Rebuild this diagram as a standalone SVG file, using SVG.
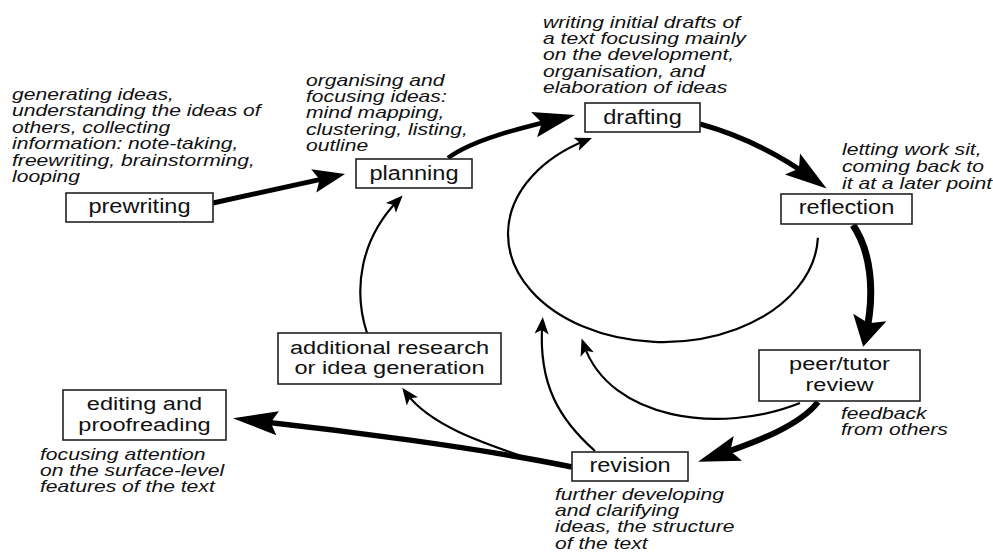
<svg xmlns="http://www.w3.org/2000/svg" width="993" height="552" viewBox="0 0 993 552">
<defs>
<style>
.box{fill:#fff;stroke:#222;stroke-width:1.6}
.lbl{font-family:"Liberation Sans",Arial,sans-serif;font-size:19.5px;fill:#111;text-anchor:middle}
.lbl2{font-family:"Liberation Sans",Arial,sans-serif;font-size:18px;fill:#111;text-anchor:middle}
.note{font-family:"Liberation Sans",Arial,sans-serif;font-size:16px;font-style:italic;fill:#111}
.c{fill:none;stroke:#000;stroke-linecap:butt}
.thin{stroke-width:2.2;marker-end:url(#mSmall)}
</style>
<marker id="mBig" markerUnits="userSpaceOnUse" markerWidth="50" markerHeight="30" refX="26" refY="0" orient="auto" overflow="visible"><path d="M42,0 L0,-13 L8,0 L0,13 Z" fill="#000"/></marker>
<marker id="mLong" markerUnits="userSpaceOnUse" markerWidth="50" markerHeight="30" refX="28" refY="0" orient="auto" overflow="visible"><path d="M45,0 L0,-12 L7,0 L0,12 Z" fill="#000"/></marker>
<marker id="mWide" markerUnits="userSpaceOnUse" markerWidth="40" markerHeight="40" refX="19" refY="0" orient="auto" overflow="visible"><path d="M30,0 L0,-17 L6,0 L0,17 Z" fill="#000"/></marker>
<marker id="mMed" markerUnits="userSpaceOnUse" markerWidth="40" markerHeight="30" refX="20" refY="0" orient="auto" overflow="visible"><path d="M32,0 L0,-12 L6,0 L0,12 Z" fill="#000"/></marker>
<marker id="mSmall" markerUnits="userSpaceOnUse" markerWidth="20" markerHeight="20" refX="10" refY="0" orient="auto" overflow="visible"><path d="M17,0 L0,-7 L4,0 L0,7 Z" fill="#000"/></marker>
</defs>
<rect width="993" height="552" fill="#fff"/>

<g id="connectors">
<path id="prewriting-planning" class="c" stroke-width="5" marker-end="url(#mMed)" d="M213,203 L333.3,176.6"/>
<path id="planning-drafting" class="c" stroke-width="4.5" marker-end="url(#mBig)" d="M448,158 C472,140 520,128 559.4,118.7"/>
<path id="drafting-reflection" class="c" stroke-width="5" marker-end="url(#mBig)" d="M700,124 C740,135 780,155 813.6,179.1"/>
<path id="reflection-peer" class="c" stroke-width="7" marker-end="url(#mWide)" d="M853,225 C870,250 876,290 865.6,336"/>
<path id="peer-revision" class="c" stroke-width="6" marker-end="url(#mBig)" d="M818,402 C800,425 760,441 713.2,456.6"/>
<path id="revision-editing" class="c" stroke-width="5.5" marker-end="url(#mLong)" d="M572,467 C480,448 340,430 249.8,420.2"/>
<path id="revision-research" class="c thin" d="M530,459 C480,442 430,425 406.4,393.4"/>
<path id="research-planning" class="c thin" d="M367,333 C353,290 360,240 397.8,200.6"/>
<path id="revision-loop" class="c thin" d="M595,451 C560,420 538,385 542.3,324"/>
<path id="peer-loop" class="c thin" d="M800,403 C720,435 610,420 583.9,345"/>
<path id="reflection-drafting" class="c thin" d="M817.9,237.8 A155,108 0 1 1 585.5,140.5"/>
</g>

<g id="prewriting">
<rect class="box" x="66" y="193" width="147" height="29"/>
<text class="lbl" transform="translate(139.5,213) scale(1.21,1)">prewriting</text>
<text class="note" transform="translate(12,100) scale(1.32,1)"><tspan x="0" y="0">generating ideas,</tspan><tspan x="0" dy="16.5">understanding the ideas of</tspan><tspan x="0" dy="16.5">others, collecting</tspan><tspan x="0" dy="16.5">information: note-taking,</tspan><tspan x="0" dy="16.5">freewriting, brainstorming,</tspan><tspan x="0" dy="16.5">looping</tspan></text>
</g>

<g id="planning">
<rect class="box" x="356" y="159" width="116" height="29"/>
<text class="lbl" transform="translate(414,180) scale(1.21,1)">planning</text>
<text class="note" transform="translate(306,85.5) scale(1.32,1)"><tspan x="0" y="0">organising and</tspan><tspan x="0" dy="16.5">focusing ideas:</tspan><tspan x="0" dy="16.5">mind mapping,</tspan><tspan x="0" dy="16.5">clustering, listing,</tspan><tspan x="0" dy="16.5">outline</tspan></text>
</g>

<g id="drafting">
<rect class="box" x="585" y="103" width="115" height="29"/>
<text class="lbl" transform="translate(642.5,123.5) scale(1.21,1)">drafting</text>
<text class="note" transform="translate(543,27.5) scale(1.32,1)"><tspan x="0" y="0">writing initial drafts of</tspan><tspan x="0" dy="16.5">a text focusing mainly</tspan><tspan x="0" dy="16.5">on the development,</tspan><tspan x="0" dy="16.5">organisation, and</tspan><tspan x="0" dy="16.5">elaboration of ideas</tspan></text>
</g>

<g id="reflection">
<rect class="box" x="781" y="194" width="131" height="30"/>
<text class="lbl" transform="translate(846.5,214) scale(1.21,1)">reflection</text>
<text class="note" transform="translate(842,155) scale(1.32,1)"><tspan x="0" y="0">letting work sit,</tspan><tspan x="0" dy="17">coming back to</tspan><tspan x="0" dy="17">it at a later point</tspan></text>
</g>

<g id="peer-review">
<rect class="box" x="759" y="350" width="161" height="51"/>
<text class="lbl2" transform="translate(839.5,370) scale(1.31,1)"><tspan x="0" y="0">peer/tutor</tspan><tspan x="0" dy="20.8">review</tspan></text>
<text class="note" transform="translate(841,418.5) scale(1.32,1)"><tspan x="0" y="0">feedback</tspan><tspan x="0" dy="16.7">from others</tspan></text>
</g>

<g id="revision">
<rect class="box" x="572" y="452" width="116" height="29"/>
<text class="lbl" transform="translate(630,472) scale(1.21,1)">revision</text>
<text class="note" transform="translate(555,499.5) scale(1.32,1)"><tspan x="0" y="0">further developing</tspan><tspan x="0" dy="16.5">and clarifying</tspan><tspan x="0" dy="16.5">ideas, the structure</tspan><tspan x="0" dy="16.5">of the text</tspan></text>
</g>

<g id="editing">
<rect class="box" x="63" y="390" width="163" height="50"/>
<text class="lbl2" transform="translate(144.5,410) scale(1.31,1)"><tspan x="0" y="0">editing and</tspan><tspan x="0" dy="20.8">proofreading</tspan></text>
<text class="note" transform="translate(40,459.5) scale(1.32,1)"><tspan x="0" y="0">focusing attention</tspan><tspan x="0" dy="16.5">on the surface-level</tspan><tspan x="0" dy="16.5">features of the text</tspan></text>
</g>

<g id="additional-research">
<rect class="box" x="278" y="333" width="223" height="51"/>
<text class="lbl2" transform="translate(389.5,353.5) scale(1.31,1)"><tspan x="0" y="0">additional research</tspan><tspan x="0" dy="20.8">or idea generation</tspan></text>
</g>
</svg>
